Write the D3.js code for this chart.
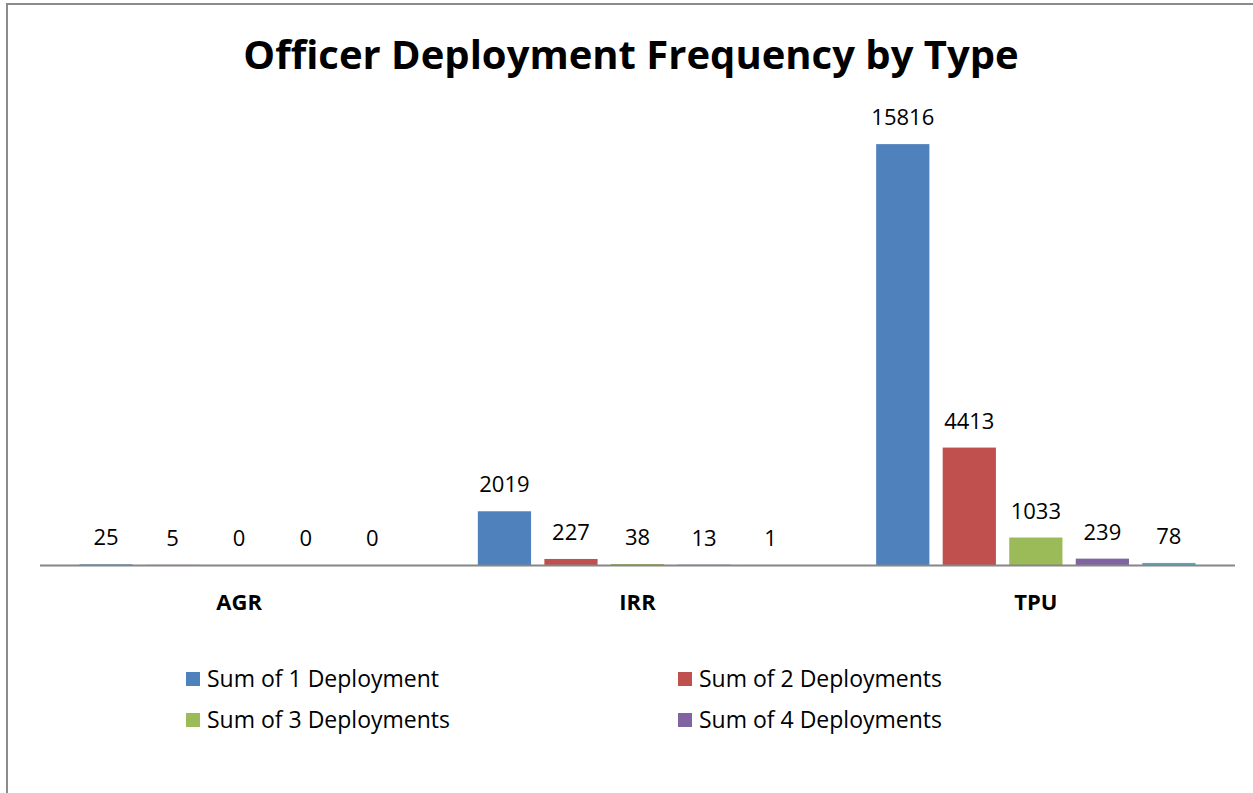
<!DOCTYPE html>
<html>
<head>
<meta charset="utf-8">
<script src="https://cdnjs.cloudflare.com/ajax/libs/d3/7.8.5/d3.min.js"></script>
<style>
  html, body { margin: 0; padding: 0; background: #fff; }
  svg { display: block; font-family: "Open Sans", "Noto Sans", sans-serif; }
</style>
</head>
<body>
<svg id="chart" width="1253" height="793"></svg>
<script>
// data
const categories = ["AGR", "IRR", "TPU"];
const seriesNames = ["Sum of 1 Deployment", "Sum of 2 Deployments",
                     "Sum of 3 Deployments", "Sum of 4 Deployments", "Sum of 5 Deployments"];
const seriesColors = ["#4f81bd", "#c0504d", "#9bbb59", "#8064a2", "#4bacc6"];
const values = [
  [25, 5, 0, 0, 0],          // AGR
  [2019, 227, 38, 13, 1],    // IRR
  [15816, 4413, 1033, 239, 78] // TPU
];
// the legend only shows the first four series (fifth is clipped in the original)
const legendCount = 4;

const W = 1253, H = 793;
const svg = d3.select("#chart");

// frame (only left and top edges visible in the original)
svg.append("line").attr("x1", 7).attr("x2", 7).attr("y1", 3).attr("y2", H)
  .attr("stroke", "#8c8c8c").attr("stroke-width", 2);
svg.append("line").attr("x1", 6).attr("x2", W).attr("y1", 4).attr("y2", 4)
  .attr("stroke", "#8c8c8c").attr("stroke-width", 2);

svg.append("text").attr("x", 631).attr("y", 69).attr("text-anchor", "middle")
  .attr("font-size", 40).attr("font-weight", "bold").attr("fill", "#000")
  .text("Officer Deployment Frequency by Type");

const x0 = d3.scaleBand().domain(categories).range([40, 1235]);
const x1 = d3.scaleBand().domain(d3.range(seriesNames.length))
  .range([39.5, x0.bandwidth() - 39.5]).paddingInner(0.2);
const y = d3.scaleLinear().domain([0, 18000]).range([565, 86]);

const groups = svg.append("g").selectAll("g").data(categories).join("g")
  .attr("transform", c => `translate(${x0(c)},0)`);

groups.selectAll("rect")
  .data((c, i) => values[i].map((v, j) => ({ v, j })))
  .join("rect")
  .attr("x", d => x1(d.j)).attr("width", x1.bandwidth())
  .attr("y", d => y(d.v)).attr("height", d => y(0) - y(d.v))
  .attr("fill", d => seriesColors[d.j]);

groups.selectAll("text.val")
  .data((c, i) => values[i].map((v, j) => ({ v, j })))
  .join("text").attr("class", "val")
  .attr("x", d => x1(d.j) + x1.bandwidth() / 2)
  .attr("y", d => y(d.v) - 19)
  .attr("text-anchor", "middle").attr("font-size", 22).attr("fill", "#000")
  .text(d => d.v);

// category axis
svg.append("line").attr("x1", 40).attr("x2", 1235).attr("y1", 565.5).attr("y2", 565.5)
  .attr("stroke", "#868686").attr("stroke-width", 2);
svg.append("g").selectAll("text").data(categories).join("text")
  .attr("x", c => x0(c) + x0.bandwidth() / 2).attr("y", 610)
  .attr("text-anchor", "middle").attr("font-size", 22).attr("font-weight", "bold")
  .text(c => c);

// legend, two columns
const legend = svg.append("g").selectAll("g")
  .data(seriesNames.slice(0, legendCount)).join("g")
  .attr("transform", (d, i) => `translate(${i % 2 ? 678 : 186},${i < 2 ? 679 : 720})`);
legend.append("rect").attr("x", 0).attr("y", -7).attr("width", 14).attr("height", 14)
  .attr("fill", (d, i) => seriesColors[i]);
legend.append("text").attr("x", 21).attr("y", 8).attr("font-size", 23).attr("fill", "#000")
  .text(d => d);
</script>
</body>
</html>
